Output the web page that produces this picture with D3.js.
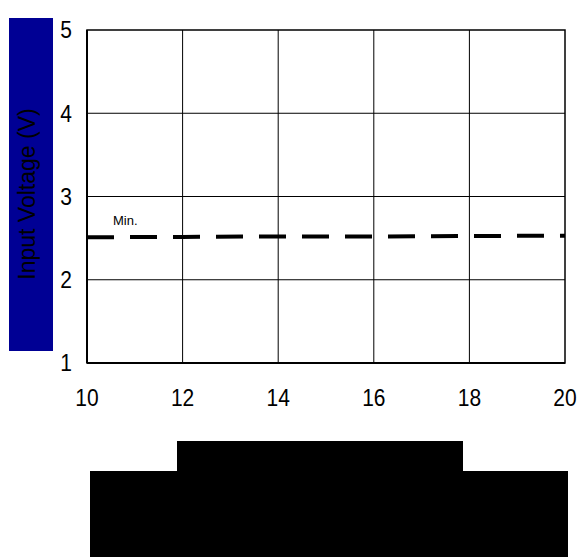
<!DOCTYPE html>
<html><head><meta charset="utf-8">
<script src="https://cdn.jsdelivr.net/npm/d3@7"></script>
<style>body{margin:0;background:#fff}svg{display:block}text{font-family:"Liberation Sans",Arial,sans-serif}</style>
</head><body>
<svg id="c" width="580" height="557"></svg>
<script>
const xTicks = [10, 12, 14, 16, 18, 20];
const yTicks = [1, 2, 3, 4, 5];
const minX = [10, 12, 14, 16, 18, 20];
const minY = [2.51, 2.515, 2.52, 2.52, 2.525, 2.53];
const yTitle = "Input Voltage (V)";
const minLabel = "Min.";

const svg = d3.select("#c");
const m = {l: 87, r: 565, t: 30, b: 363};
const x = d3.scaleLinear().domain([10, 20]).range([m.l, m.r]);
const y = d3.scaleLinear().domain([1, 5]).range([m.b, m.t]);

// blue title box
svg.append("rect").attr("x", 9).attr("y", 18).attr("width", 44).attr("height", 333).attr("fill", "#000094");
svg.append("text").attr("transform", "translate(35,194) rotate(-90)")
  .attr("text-anchor", "middle").style("font-size", "23px").style("fill", "#000").text(yTitle);

// grid
svg.append("g").selectAll("line").data(xTicks.slice(1, -1)).join("line")
  .attr("x1", d => x(d)).attr("x2", d => x(d)).attr("y1", m.t).attr("y2", m.b)
  .attr("stroke", "#000").attr("stroke-width", 1);
svg.append("g").selectAll("line").data(yTicks.slice(1, -1)).join("line")
  .attr("x1", m.l).attr("x2", m.r).attr("y1", d => y(d)).attr("y2", d => y(d))
  .attr("stroke", "#000").attr("stroke-width", 1);
// frame
svg.append("rect").attr("x", m.l).attr("y", m.t).attr("width", m.r - m.l).attr("height", m.b - m.t)
  .attr("fill", "none").attr("stroke", "#000").attr("stroke-width", 1.5);
svg.append("line").attr("x1", m.l).attr("x2", m.l).attr("y1", m.t).attr("y2", m.b).attr("stroke", "#000").attr("stroke-width", 2);
svg.append("line").attr("x1", m.l).attr("x2", m.r).attr("y1", m.b).attr("y2", m.b).attr("stroke", "#000").attr("stroke-width", 2);

// tick labels
svg.append("g").selectAll("text").data(yTicks).join("text")
  .attr("transform", d => `translate(66,${y(d)}) scale(1,1.15)`).attr("dy", "0.35em").attr("text-anchor", "middle")
  .style("font-size", "21px").style("fill", "#000").text(d => d);
svg.append("g").selectAll("text").data(xTicks).join("text")
  .attr("transform", d => `translate(${x(d)},398) scale(1,1.15)`).attr("dy", "0.35em").attr("text-anchor", "middle")
  .style("font-size", "21px").style("fill", "#000").text(d => d);

// min line
const line = d3.line().x((d, i) => x(minX[i])).y(d => y(d));
svg.append("path").datum(minY).attr("d", line).attr("fill", "none")
  .attr("stroke", "#000").attr("stroke-width", 4).attr("stroke-dasharray", "27,16");
svg.append("text").attr("x", 113).attr("y", 225).style("font-size", "13px").style("fill", "#000").text(minLabel);

// redaction boxes
svg.append("rect").attr("x", 177).attr("y", 441).attr("width", 286).attr("height", 32).attr("fill", "#000");
svg.append("rect").attr("x", 90).attr("y", 471).attr("width", 478).attr("height", 86).attr("fill", "#000");
</script>
</body></html>
